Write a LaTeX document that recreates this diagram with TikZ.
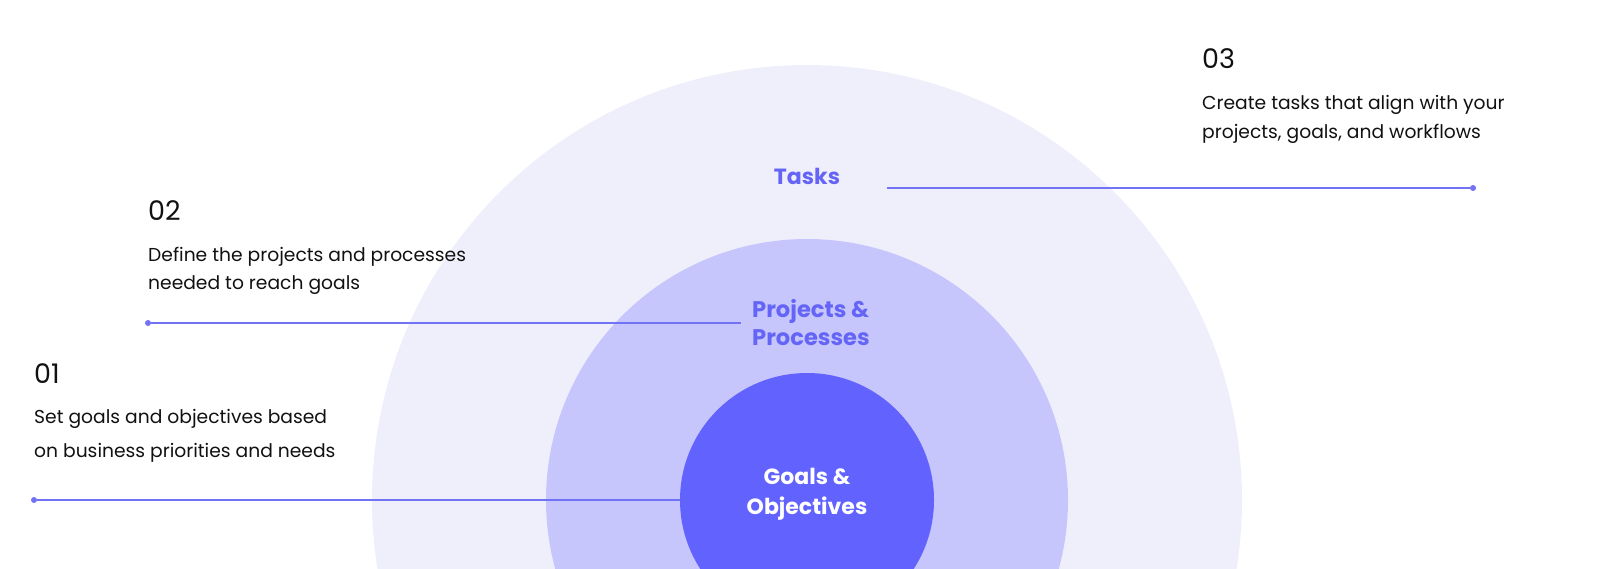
\documentclass[tikz,border=0pt]{standalone}
\usepackage{fontspec}
\setmainfont{Poppins}
\definecolor{ringouter}{HTML}{EFEFFC}
\definecolor{ringmid}{HTML}{C6C6FD}
\definecolor{core}{HTML}{6262FF}
\definecolor{accent}{HTML}{6464F6}
\definecolor{linkcol}{HTML}{7272F4}
\definecolor{bodytext}{HTML}{111111}
\begin{document}
\begin{tikzpicture}[x=1pt,y=-1pt,
  link/.style={draw=linkcol, line width=1.6pt},
  enddot/.style={circle, fill=linkcol, inner sep=0pt, minimum size=6pt},
  stepnum/.style={anchor=base west, inner sep=0pt, text=bodytext,
    font=\fontsize{27}{32}\selectfont},
  desc/.style={anchor=base west, inner sep=0pt, align=left, text=bodytext,
    font=\fontsize{18.7}{28.2}\selectfont},
  ringlabel/.style={text=accent, inner sep=0pt,
    font=\bfseries\fontsize{22}{28}\selectfont}]
\useasboundingbox (0,0) rectangle (1603,568);

% concentric rings, cut off by the lower edge
\begin{scope}
  \clip (0,0) rectangle (1603,568);
  \fill[ringouter] (807,500) circle[radius=435pt];
  \fill[ringmid]   (807,500) circle[radius=261pt];
  \node[circle, fill=core, inner sep=0pt, minimum size=254pt] (goals) at (807,500) {};
\end{scope}

% ring labels (multi-line nodes sit on the baseline of their last line)
\node[ringlabel, anchor=base] (tasks) at (807,184.5) {Tasks};
\node[ringlabel, anchor=base west, align=left,
      font=\bfseries\fontsize{22.6}{27.6}\selectfont] (proj) at (752,345.5) {Projects \&\\Processes};
\node[ringlabel, anchor=base, align=center, text=white,
      font=\bfseries\fontsize{22}{30.5}\selectfont] (goalslabel) at (807,514.5) {Goals \&\\Objectives};

% step texts
\node[stepnum] (n3) at (1202,68) {03};
\node[desc] (d3) at (1202,138) {Create tasks that align with your\\projects, goals, and workflows};
\node[stepnum] (n2) at (148,220) {02};
\node[desc] (d2) at (148,289.5) {Define the projects and processes\\needed to reach goals};
\node[stepnum] (n1) at (34,383) {01};
\node[desc, font=\fontsize{18.7}{34}\selectfont] (d1) at (34,457) {Set goals and objectives based\\on business priorities and needs};

% connectors
\node[enddot] (dot1) at (34,500) {};
\node[enddot] (dot2) at (148,323) {};
\node[enddot] (dot3) at (1473,188) {};
\coordinate (t3) at (887,188);
\coordinate (p2) at (741,323);
\draw[link] (dot1) -- (goals.west);
\draw[link] (dot2) -- (p2);
\draw[link] (t3) -- (dot3);
\end{tikzpicture}
\end{document}
